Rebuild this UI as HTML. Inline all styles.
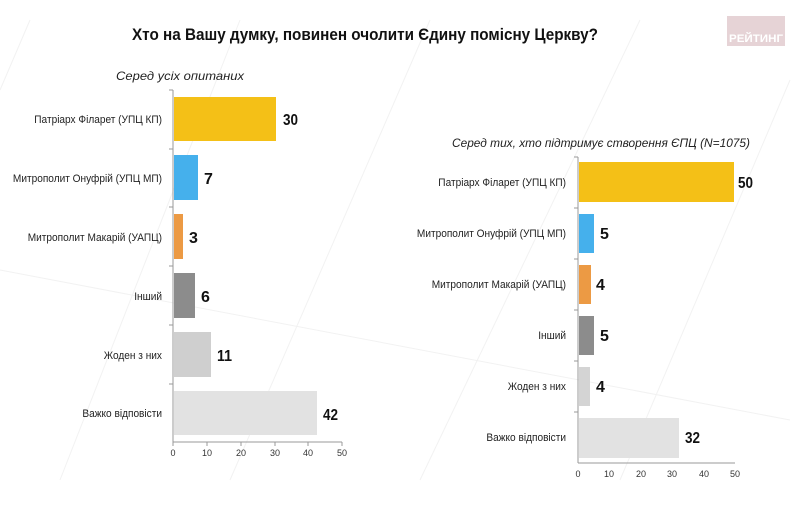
<!DOCTYPE html>
<html><head><meta charset="utf-8"><style>
body{margin:0;background:#fff}
svg text{font-family:"Liberation Sans","DejaVu Sans",sans-serif}
</style></head><body>
<svg width="791" height="505" viewBox="0 0 791 505" xmlns="http://www.w3.org/2000/svg">
<rect width="791" height="505" fill="#fff"/>
<g stroke="#f2f2f2" stroke-width="1" fill="none">
<line x1="30" y1="20" x2="0" y2="90"/><line x1="240" y1="20" x2="60" y2="480"/>
<line x1="430" y1="20" x2="230" y2="480"/><line x1="640" y1="20" x2="420" y2="480"/>
<line x1="790" y1="80" x2="620" y2="480"/><line x1="0" y1="270" x2="790" y2="420"/>
</g>
<rect x="727" y="16" width="58" height="30" fill="#e6d3d6"/>
<text x="756" y="42" font-size="11" font-weight="bold" fill="#fff" text-anchor="middle" textLength="54" lengthAdjust="spacingAndGlyphs">РЕЙТИНГ</text>
<text x="132" y="40" font-size="17" font-weight="bold" fill="#111" textLength="466" lengthAdjust="spacingAndGlyphs">Хто на Вашу думку, повинен очолити Єдину помісну Церкву?</text>
<text x="116" y="80" font-size="12" font-style="italic" fill="#222" textLength="128" lengthAdjust="spacingAndGlyphs">Серед усіх опитаних</text>
<text x="452" y="147" font-size="12" font-style="italic" fill="#222" textLength="298" lengthAdjust="spacingAndGlyphs">Серед тих, хто підтримує створення ЄПЦ (N=1075)</text>
<!-- left chart -->
<g stroke="#999" stroke-width="1">
<line x1="173" y1="90" x2="173" y2="442"/><line x1="173" y1="442" x2="342" y2="442"/>
<line x1="169" y1="90" x2="173" y2="90"/><line x1="169" y1="149" x2="173" y2="149"/><line x1="169" y1="207" x2="173" y2="207"/><line x1="169" y1="266" x2="173" y2="266"/><line x1="169" y1="325" x2="173" y2="325"/><line x1="169" y1="384" x2="173" y2="384"/>
<line x1="173" y1="442" x2="173" y2="446"/><line x1="207" y1="442" x2="207" y2="446"/><line x1="241" y1="442" x2="241" y2="446"/><line x1="275" y1="442" x2="275" y2="446"/><line x1="308" y1="442" x2="308" y2="446"/><line x1="342" y1="442" x2="342" y2="446"/>
</g>
<rect x="174" y="97" width="102" height="44" fill="#f4c017"/>
<rect x="174" y="155" width="24" height="45" fill="#45b0ec"/>
<rect x="174" y="214" width="9" height="45" fill="#ec9a44"/>
<rect x="174" y="273" width="21" height="45" fill="#8c8c8c"/>
<rect x="174" y="332" width="37" height="45" fill="#cfcfcf"/>
<rect x="174" y="391" width="143" height="44" fill="#e2e2e2"/>
<g font-size="11" fill="#222" text-anchor="end" transform="translate(162 0) scale(0.92 1) translate(-162 0)">
<text x="162" y="123">Патріарх Філарет (УПЦ КП)</text>
<text x="162" y="182">Митрополит Онуфрій (УПЦ МП)</text>
<text x="162" y="241">Митрополит Макарій (УАПЦ)</text>
<text x="162" y="300">Інший</text>
<text x="162" y="359">Жоден з них</text>
<text x="162" y="417">Важко відповісти</text>
</g>
<g font-size="16" font-weight="bold" fill="#111">
<text x="283" y="125" textLength="15" lengthAdjust="spacingAndGlyphs">30</text><text x="204" y="184">7</text><text x="189" y="243">3</text><text x="201" y="302">6</text><text x="217" y="361" textLength="15" lengthAdjust="spacingAndGlyphs">11</text><text x="323" y="420" textLength="15" lengthAdjust="spacingAndGlyphs">42</text>
</g>
<g font-size="9" fill="#333" text-anchor="middle">
<text x="173" y="456">0</text><text x="207" y="456">10</text><text x="241" y="456">20</text><text x="275" y="456">30</text><text x="308" y="456">40</text><text x="342" y="456">50</text>
</g>
<!-- right chart -->
<g stroke="#999" stroke-width="1">
<line x1="578" y1="157" x2="578" y2="463"/><line x1="578" y1="463" x2="735" y2="463"/>
<line x1="574" y1="157" x2="578" y2="157"/><line x1="574" y1="208" x2="578" y2="208"/><line x1="574" y1="259" x2="578" y2="259"/><line x1="574" y1="310" x2="578" y2="310"/><line x1="574" y1="361" x2="578" y2="361"/><line x1="574" y1="412" x2="578" y2="412"/>
</g>
<rect x="579" y="162" width="155" height="40" fill="#f4c017"/>
<rect x="579" y="214" width="15" height="39" fill="#45b0ec"/>
<rect x="579" y="265" width="12" height="39" fill="#ec9a44"/>
<rect x="579" y="316" width="15" height="39" fill="#8c8c8c"/>
<rect x="579" y="367" width="11" height="39" fill="#d4d4d4"/>
<rect x="579" y="418" width="100" height="40" fill="#e2e2e2"/>
<g font-size="11" fill="#222" text-anchor="end" transform="translate(566 0) scale(0.92 1) translate(-566 0)">
<text x="566" y="186">Патріарх Філарет (УПЦ КП)</text>
<text x="566" y="237">Митрополит Онуфрій (УПЦ МП)</text>
<text x="566" y="288">Митрополит Макарій (УАПЦ)</text>
<text x="566" y="339">Інший</text>
<text x="566" y="390">Жоден з них</text>
<text x="566" y="441">Важко відповісти</text>
</g>
<g font-size="16" font-weight="bold" fill="#111">
<text x="738" y="188" textLength="15" lengthAdjust="spacingAndGlyphs">50</text><text x="600" y="239">5</text><text x="596" y="290">4</text><text x="600" y="341">5</text><text x="596" y="392">4</text><text x="685" y="443" textLength="15" lengthAdjust="spacingAndGlyphs">32</text>
</g>
<g font-size="9" fill="#333" text-anchor="middle">
<text x="578" y="477">0</text><text x="609" y="477">10</text><text x="641" y="477">20</text><text x="672" y="477">30</text><text x="704" y="477">40</text><text x="735" y="477">50</text>
</g>
</svg>
</body></html>
